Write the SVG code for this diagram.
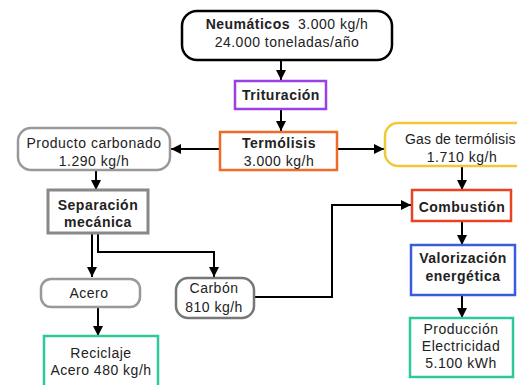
<svg xmlns="http://www.w3.org/2000/svg" width="517" height="385" viewBox="0 0 517 385">
<defs>
<marker id="ah" viewBox="0 0 10 10" refX="10" refY="5" markerWidth="5.5" markerHeight="5" markerUnits="strokeWidth" orient="auto">
<path d="M0,0 L10,5 L0,10 z" fill="#000"/>
</marker>
<style>
.t{font-family:"Liberation Sans",Arial,sans-serif;font-size:14px;fill:#222;text-anchor:middle;letter-spacing:0.5px}
.b{font-weight:bold}
.c{fill:none;stroke:#000;stroke-width:2;marker-end:url(#ah)}
.box{fill:#fff;stroke-width:2.5}
</style>
</defs>
<rect width="517" height="385" fill="#fff"/>
<g id="connectors">
<line class="c" x1="281" y1="60" x2="281" y2="80"/>
<line class="c" x1="281" y1="110" x2="281" y2="131"/>
<line class="c" x1="220" y1="149" x2="171" y2="149"/>
<line class="c" x1="338" y1="149" x2="384" y2="149"/>
<line class="c" x1="96" y1="170" x2="96" y2="190"/>
<line class="c" x1="462" y1="166" x2="462" y2="190"/>
<line class="c" x1="462" y1="221" x2="462" y2="245"/>
<line class="c" x1="462" y1="295" x2="462" y2="318"/>
<line class="c" x1="92" y1="234" x2="92" y2="277"/>
<polyline class="c" points="98,234 98,252 214,252 214,277"/>
<polyline class="c" points="254,297 332,297 332,205 411,205"/>
<line class="c" x1="98" y1="307" x2="98" y2="336"/>
</g>
<g id="neumaticos">
<rect class="box" x="182" y="11" width="210" height="49" rx="15" stroke="#000"/>
<text class="t" x="287" y="29"><tspan class="b">Neumáticos</tspan><tspan dx="8">3.000 kg/h</tspan></text>
<text class="t" x="287" y="47">24.000 toneladas/año</text>
</g>
<g id="trituracion">
<rect class="box" x="235" y="81" width="91" height="28" stroke="#9b3fe6"/>
<text class="t b" x="281" y="100">Trituración</text>
</g>
<g id="termolisis">
<rect class="box" x="220" y="132" width="117" height="38" stroke="#f06a28"/>
<text class="t b" x="279" y="148">Termólisis</text>
<text class="t" x="279" y="166">3.000 kg/h</text>
</g>
<g id="producto">
<rect class="box" x="18" y="128" width="152" height="42" rx="13" stroke="#999"/>
<text class="t" x="94" y="148">Producto carbonado</text>
<text class="t" x="94" y="166">1.290 kg/h</text>
</g>
<g id="gas">
<rect class="box" x="385" y="123" width="155" height="43" rx="13" stroke="#f2c83a"/>
<text class="t" x="405" y="144" style="text-anchor:start" textLength="111" lengthAdjust="spacing">Gas de termólisis</text>
<text class="t" x="462" y="162">1.710 kg/h</text>
</g>
<g id="combustion">
<rect class="box" x="412" y="190" width="99" height="31" stroke="#e84424"/>
<text class="t b" x="462" y="212">Combustión</text>
</g>
<g id="valorizacion">
<rect class="box" x="411" y="245" width="104" height="50" stroke="#3a5be0"/>
<text class="t b" x="463" y="263">Valorización</text>
<text class="t b" x="463" y="281">energética</text>
</g>
<g id="produccion">
<rect class="box" x="410" y="318" width="103" height="59" stroke="#2ec89c"/>
<text class="t" x="461" y="334">Producción</text>
<text class="t" x="461" y="351">Electricidad</text>
<text class="t" x="461" y="368">5.100 kWh</text>
</g>
<g id="separacion">
<rect x="48" y="190" width="100" height="43" fill="#fff" stroke="#888" stroke-width="3"/>
<text class="t b" x="98" y="210">Separación</text>
<text class="t b" x="98" y="227">mecánica</text>
</g>
<g id="acero">
<rect class="box" x="41" y="279" width="99" height="28" rx="10" stroke="#999"/>
<text class="t" x="89" y="298">Acero</text>
</g>
<g id="carbon">
<rect class="box" x="176" y="278" width="78" height="40" rx="12" stroke="#777"/>
<text class="t" x="214" y="293">Carbón</text>
<text class="t" x="214" y="312">810 kg/h</text>
</g>
<g id="reciclaje">
<rect class="box" x="44" y="336" width="114" height="55" stroke="#2ec89c"/>
<text class="t" x="101" y="358">Reciclaje</text>
<text class="t" x="101" y="375">Acero 480 kg/h</text>
</g>
</svg>
